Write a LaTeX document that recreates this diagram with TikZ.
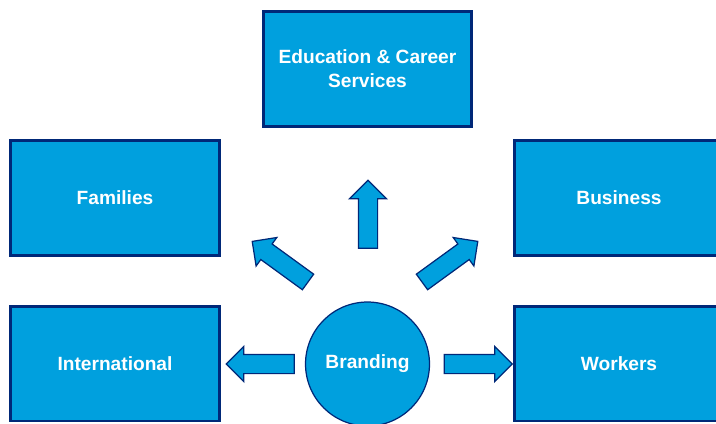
\documentclass[tikz,border=0pt]{standalone}
\usepackage{fontspec}
\setmainfont{Liberation Sans}
\usetikzlibrary{shapes.arrows}
\definecolor{boxblue}{RGB}{0,160,222}
\definecolor{navy}{RGB}{0,40,120}

\begin{document}
\begin{tikzpicture}[x=0.02cm,y=-0.02cm,
    every node/.style={text=white, font=\fontsize{10.9}{13.6}\selectfont\bfseries, align=center},
    target/.style={rectangle, draw=navy, line width=1.7pt, fill=boxblue, minimum width=4.18cm, minimum height=2.3cm},
    hub/.style={circle, draw=navy, line width=0.7pt, fill=boxblue, minimum size=2.48cm, inner sep=0pt},
    push/.style={single arrow, draw=navy, line width=0.7pt, fill=boxblue, inner sep=0.18cm, single arrow head extend=0.16cm, minimum height=1.38cm}]
  \useasboundingbox (0,0) rectangle (716,423);
  \begin{scope}
  \clip (0,0) rectangle (716,423);

  \node[target] (edu) at (367.5,69) {Education \& Career\\Services};
  \node[target] (fam) at (115,198) {Families};
  \node[target] (bus) at (619,198) {Business};
  \node[target] (intl) at (115,363.5) {International};
  \node[target] (work) at (619,363.5) {Workers};

  \node[hub] (brand) at (367.5,364) {Branding};

  % arrows out of the hub
  \node[push, rotate=90, single arrow head extend=0.18cm, minimum height=1.36cm] (toEdu) at (368,219) {};
  \node[push, rotate=144] (toFam) at (284,264.5) {};
  \node[push, rotate=36] (toBus) at (446,264.5) {};
  \node[push, rotate=180, minimum height=1.36cm] (toIntl) at (265,364) {};
  \node[push, minimum height=1.36cm] (toWork) at (473.5,364) {};
  \end{scope}
\end{tikzpicture}
\end{document}
